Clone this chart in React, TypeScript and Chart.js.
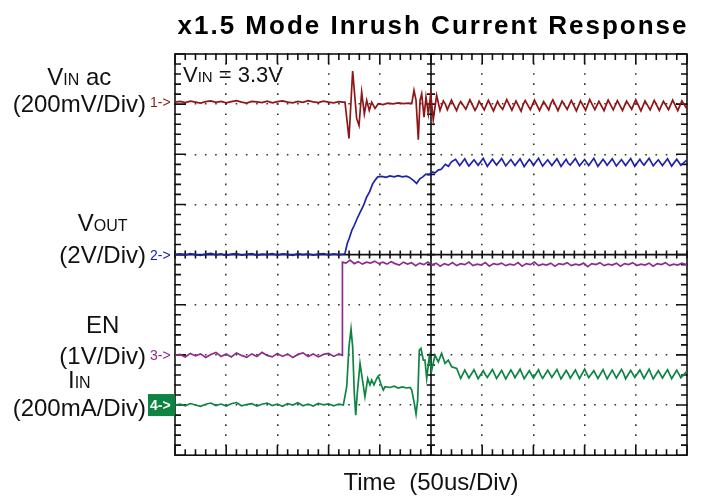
import React, { useEffect, useRef } from 'react';
import { Chart, registerables } from 'chart.js';

Chart.register(...registerables);

// ---------- text ----------
const TITLE = 'x1.5 Mode Inrush Current Response';
const X_AXIS_TITLE = 'Time  (50us/Div)';
const NOTE_PARTS = ['V', 'IN', ' = 3.3V'];

// ---------- scope setup ----------
const TIME_PER_DIV = 50; // us
const H_DIVS = 10;
const V_DIVS = 8;
const MINOR_PER_DIV = 5;

const CH_LABEL_LINE1 = [['V', 'IN', ' ac'], ['V', 'OUT', ''], ['EN', '', ''], ['I', 'IN', '']];
const CH_LABEL_LINE2 = ['(200mV/Div)', '(2V/Div)', '(1V/Div)', '(200mA/Div)'];
const CH_UNITS_PER_DIV = [200, 2, 1, 200]; // mV, V, V, mA
const CH_POSITIONS = [7.04, 4.0, 1.99, 1.0]; // marker level, divisions from bottom

// ---------- traces: [time us, value in channel units] ----------
const VIN_AC_MV: [number, number][] = [
  [0, 0], [5, 3], [10, -2], [15, 4], [20, 0], [25, -4], [30, 2], [35, 5], [40, -1], [45, 3], [50, -3], [55, 2],
  [60, 6], [65, 0], [70, -4], [75, 3], [80, 1], [85, -2], [90, 4], [95, -3], [100, 2], [105, 5], [110, 0],
  [115, -3], [120, 3], [125, -1], [130, 6], [135, 1], [140, -2], [145, 4], [150, 0], [155, -3], [160, 2], [164, 0],
  [166, 0], [169.9, -145], [173.5, 124], [177.4, -65], [179.7, -93], [182.3, 40], [184.9, -47], [187.2, 7],
  [189.7, -33], [192.1, 0], [195.3, -25], [198.5, -6], [203.1, -10], [208, -4], [213, -7], [218, -3], [223, -6],
  [228, -4], [231.2, -6], [233.4, 47], [235.4, 7], [237.6, -150], [239.3, 7], [240.9, 33], [243.2, -60],
  [245.1, 20], [247.4, -47], [249.7, 33], [252.2, -70], [255.5, 27], [258.8, -33],
  [262, 5], [264, -8], [266, -30], [270, 8], [275, -34], [277, -12], [279, 2], [284, -28], [288, 9], [293, -33],
  [295, -18], [297, 4], [302, -31], [306, 7], [311, -35], [315, 3], [317, -14], [320, -29], [324, 10], [329, -32],
  [333, 5], [338, -36], [340, -10], [342, 6], [347, -30], [351, 8], [356, -33], [360, 2], [365, -31], [367, -6],
  [369, 9], [374, -34], [378, 4], [383, -29], [387, 7], [392, -35], [394, -15], [396, 5], [401, -32], [405, 10],
  [410, -30], [414, 3], [419, -34], [421, -12], [423, 8], [428, -31], [432, 6], [437, -33], [441, 4], [446, -29],
  [448, -9], [450, 9], [455, -35], [459, 5], [464, -31], [468, 7], [473, -33], [475, -14], [477, 3], [482, -30],
  [486, 8], [491, -34], [495, 5], [500, -28],
];

const VOUT_V: [number, number][] = [
  [0, 0], [5, 0.03], [10, -0.02], [15, 0.04], [20, 0], [25, -0.03], [30, 0.02], [35, 0.05], [40, -0.01],
  [45, 0.03], [50, -0.04], [55, 0.02], [60, 0.04], [65, -0.02], [70, 0.01], [75, 0.04], [80, -0.03], [85, 0.02],
  [90, 0], [95, 0.04], [100, -0.02], [105, 0.03], [110, 0.01], [115, -0.03], [120, 0.04], [125, 0], [130, 0.03],
  [135, -0.02], [140, 0.02], [145, 0.04], [150, -0.01], [155, 0.03], [160, 0], [165, 0.02],
  [166, 0.05], [168.3, 0.45], [170, 0.63], [173, 1.0], [175, 1.16], [178, 1.45], [181, 1.7], [184, 1.95],
  [187, 2.28], [190, 2.5], [193, 2.82], [196, 3.0], [198, 3.1], [202, 3.12], [206, 3.08], [210, 3.14], [214, 3.1],
  [218, 3.15], [222, 3.1], [226, 3.13], [229, 3.08], [233, 2.95], [236, 2.84], [239, 3.02], [242, 3.1],
  [245, 3.21], [248, 3.18], [251, 3.3], [254, 3.26], [257, 3.37], [260, 3.4], [264, 3.6], [267, 3.52], [270, 3.7],
  [274, 3.8], [278, 3.55], [283, 3.82], [285, 3.66], [287, 3.53], [292, 3.78], [296, 3.56], [301, 3.84],
  [305, 3.52], [310, 3.8], [312, 3.68], [314, 3.57], [319, 3.83], [323, 3.54], [328, 3.79], [332, 3.55],
  [337, 3.82], [341, 3.51], [346, 3.8], [348, 3.7], [350, 3.56], [355, 3.84], [359, 3.53], [364, 3.78],
  [368, 3.55], [373, 3.82], [377, 3.52], [382, 3.8], [384, 3.64], [386, 3.57], [391, 3.83], [395, 3.54],
  [400, 3.79], [404, 3.55], [409, 3.84], [413, 3.52], [418, 3.8], [420, 3.69], [422, 3.56], [427, 3.82],
  [431, 3.53], [436, 3.79], [440, 3.55], [445, 3.83], [449, 3.52], [454, 3.8], [456, 3.66], [458, 3.57],
  [463, 3.84], [467, 3.54], [472, 3.78], [476, 3.55], [481, 3.82], [485, 3.53], [490, 3.8], [492, 3.68],
  [494, 3.56], [500, 3.78],
];

const EN_V: [number, number][] = [
  [0, 0], [5, 0.02], [10, -0.03], [15, 0.04], [20, -0.01], [25, 0.03], [30, -0.04], [35, 0.02], [40, 0.06],
  [45, -0.02], [50, 0.03], [55, -0.03], [60, 0.05], [65, 0], [70, -0.04], [75, 0.03], [80, -0.02], [85, 0.06],
  [90, 0], [95, -0.03], [100, 0.04], [105, -0.02], [110, 0.03], [115, -0.04], [120, 0.02], [125, 0.05],
  [130, -0.02], [135, 0.03], [140, -0.03], [145, 0.02], [150, 0.04], [155, -0.02], [160, 0.03], [163.4, 0],
  [163.5, 1.86], [167, 1.84], [171, 1.9], [175, 1.83], [179, 1.87], [183, 1.82], [187, 1.86], [191, 1.84],
  [195, 1.88], [199, 1.83], [203, 1.86], [207, 1.82], [211, 1.87], [215, 1.83], [219, 1.8], [223, 1.86],
  [227, 1.82], [231, 1.85], [235, 1.79], [239, 1.84], [243, 1.81], [247, 1.86], [251, 1.8],
  [255, 1.84], [259, 1.78], [263, 1.83], [267, 1.8], [271, 1.85], [275, 1.79], [279, 1.83], [283, 1.81],
  [287, 1.86], [291, 1.79], [295, 1.82], [299, 1.8], [303, 1.85], [307, 1.78], [311, 1.83], [315, 1.81],
  [319, 1.84], [323, 1.79], [327, 1.82], [331, 1.8], [335, 1.85], [339, 1.78], [343, 1.83], [347, 1.81],
  [351, 1.86], [355, 1.79], [359, 1.82], [363, 1.8], [367, 1.84], [371, 1.78], [375, 1.83], [379, 1.81],
  [383, 1.85], [387, 1.79], [391, 1.82], [395, 1.8], [399, 1.84], [403, 1.77], [407, 1.83], [411, 1.81],
  [415, 1.85], [419, 1.79], [423, 1.82], [427, 1.8], [431, 1.84], [435, 1.78], [439, 1.83], [443, 1.81],
  [447, 1.85], [451, 1.79], [455, 1.82], [459, 1.8], [463, 1.84], [467, 1.78], [471, 1.83], [475, 1.81],
  [479, 1.85], [483, 1.79], [487, 1.82], [491, 1.8], [495, 1.84], [500, 1.8],
];

const IIN_MA: [number, number][] = [
  [0, 0], [5, 4], [10, -3], [15, 6], [20, 0], [25, -5], [30, 3], [35, 8], [40, -2], [45, 4], [50, -4], [55, 5],
  [60, 10], [65, -3], [70, 2], [75, 6], [80, -4], [85, 3], [90, 8], [95, -2], [100, 4], [105, -5], [110, 6],
  [115, 0], [120, 9], [125, -3], [130, 4], [135, -4], [140, 7], [145, 1], [150, 5], [155, -3], [160, 4],
  [164.4, 0], [167.7, 73], [169.9, 232], [171.9, 303], [173.5, 232], [175.1, 47], [176.5, -40], [178, 47],
  [180.7, 166], [182.6, 113], [185.5, 33], [188.2, 106], [190.4, 80], [192.1, 100], [194.3, 80], [197, 106],
  [198.5, 115], [200.9, 86], [203.4, 60], [205.1, 73], [210, 70], [214, 75], [218, 68], [222, 72], [226, 68],
  [229.5, 70], [231.2, 60], [233.7, 7], [235.4, -36], [237, 20], [238.6, 219], [240.2, 226], [242.5, 179],
  [244.1, 179], [245.8, 106], [248.3, 192], [250.7, 139], [253.9, 199], [257.1, 172], [260.4, 206],
  [263.7, 166], [266.9, 179], [270.2, 153], [275.1, 146], [279, 106],
  [283, 139], [285, 124], [287, 108], [292, 141], [296, 105], [301, 137], [303, 122], [305, 110], [310, 142],
  [314, 106], [319, 138], [323, 104], [328, 140], [330, 126], [332, 109], [337, 143], [341, 105], [346, 137],
  [350, 108], [355, 141], [357, 120], [359, 106], [364, 139], [368, 110], [373, 142], [377, 104], [382, 138],
  [384, 125], [386, 107], [391, 140], [395, 105], [400, 143], [404, 109], [409, 137], [411, 121], [413, 106],
  [418, 141], [422, 104], [427, 139], [431, 108], [436, 142], [438, 127], [440, 105], [445, 138], [449, 110],
  [454, 140], [458, 106], [463, 143], [465, 123], [467, 104], [472, 137], [476, 108], [481, 141], [485, 105],
  [490, 139], [492, 124], [494, 109], [500, 136],
];

const TRACES = [VIN_AC_MV, VOUT_V, EN_V, IIN_MA];
const CH_COLORS = ['#8e1616', '#1b23ab', '#8f2b8f', '#0e8443'];
const FONT = "'Liberation Sans', Arial, Helvetica, sans-serif";
const LINE1_GAP = [27, 32, 31, 28];
const LINE2_SHIFT = [9.5, 8.5, 8.5, 11];

type Part = { t: string; s: number; b?: boolean };

function partsWidth(ctx: CanvasRenderingContext2D, parts: Part[]) {
  let w = 0;
  for (const p of parts) {
    ctx.font = `${p.b ? 'bold ' : ''}${p.s}px ${FONT}`;
    w += ctx.measureText(p.t).width;
  }
  return w;
}

function drawParts(ctx: CanvasRenderingContext2D, parts: Part[], x: number, y: number) {
  let cx = x;
  ctx.textAlign = 'left';
  ctx.textBaseline = 'alphabetic';
  for (const p of parts) {
    if (!p.t) continue;
    ctx.font = `${p.b ? 'bold ' : ''}${p.s}px ${FONT}`;
    ctx.fillText(p.t, cx, y);
    cx += ctx.measureText(p.t).width;
  }
}

const scopePlugin = {
  id: 'scopeGraticule',
  beforeDatasetsDraw(chart: any) {
    const { ctx, chartArea: a, scales } = chart;
    const xs = scales.x;
    const ys = scales.y;
    ctx.save();
    ctx.strokeStyle = '#111';
    ctx.lineWidth = 1.6;
    ctx.strokeRect(a.left, a.top, a.right - a.left, a.bottom - a.top);
    const cx = xs.getPixelForValue((H_DIVS / 2) * TIME_PER_DIV);
    const cy = ys.getPixelForValue(V_DIVS / 2);
    ctx.beginPath();
    ctx.moveTo(a.left, cy);
    ctx.lineTo(a.right, cy);
    ctx.moveTo(cx, a.top);
    ctx.lineTo(cx, a.bottom);
    ctx.stroke();
    ctx.beginPath();
    const stepT = TIME_PER_DIV / MINOR_PER_DIV;
    for (let i = 0; i <= H_DIVS * MINOR_PER_DIV; i++) {
      const px = xs.getPixelForValue(i * stepT);
      const major = i % MINOR_PER_DIV === 0;
      const len = major ? 10 : 6;
      ctx.moveTo(px, a.top);
      ctx.lineTo(px, a.top + len);
      ctx.moveTo(px, a.bottom);
      ctx.lineTo(px, a.bottom - len);
      ctx.moveTo(px, cy - 4);
      ctx.lineTo(px, cy + 4);
    }
    const stepV = 1 / MINOR_PER_DIV;
    for (let i = 0; i <= V_DIVS * MINOR_PER_DIV; i++) {
      const py = ys.getPixelForValue(i * stepV);
      const major = i % MINOR_PER_DIV === 0;
      const len = major ? 11 : 6;
      ctx.moveTo(a.left, py);
      ctx.lineTo(a.left + len, py);
      ctx.moveTo(a.right, py);
      ctx.lineTo(a.right - len, py);
      ctx.moveTo(cx - 4, py);
      ctx.lineTo(cx + 4, py);
    }
    ctx.stroke();
    ctx.restore();
  },
  afterDraw(chart: any) {
    const { ctx, chartArea: a, scales } = chart;
    const ys = scales.y;
    ctx.save();
    // title
    ctx.fillStyle = '#000';
    ctx.font = `bold 26px ${FONT}`;
    (ctx as any).letterSpacing = '2px';
    ctx.textAlign = 'center';
    ctx.textBaseline = 'alphabetic';
    ctx.fillText(TITLE, (a.left + a.right) / 2 + 2, 34);
    (ctx as any).letterSpacing = '0px';

    // note inside plot
    ctx.fillStyle = '#111';
    drawParts(ctx, [{ t: NOTE_PARTS[0], s: 22 }, { t: NOTE_PARTS[1], s: 15 }, { t: NOTE_PARTS[2], s: 22 }], a.left + 8, a.top + 28);

    // channel labels & markers
    for (let c = 0; c < 4; c++) {
      const py = ys.getPixelForValue(CH_POSITIONS[c]);
      ctx.fillStyle = '#111';
      ctx.font = `24px ${FONT}`;
      const l2w = ctx.measureText(CH_LABEL_LINE2[c]).width;
      const rightX = a.left - 29;
      const centerX = rightX - l2w / 2;
      const base2 = py + LINE2_SHIFT[c];
      ctx.textAlign = 'right';
      ctx.textBaseline = 'alphabetic';
      ctx.fillText(CH_LABEL_LINE2[c], rightX, base2);
      const l1: Part[] = [
        { t: CH_LABEL_LINE1[c][0], s: 24 },
        { t: CH_LABEL_LINE1[c][1], s: 16 },
        { t: CH_LABEL_LINE1[c][2], s: 24 },
      ];
      const l1w = partsWidth(ctx, l1);
      drawParts(ctx, l1, centerX - l1w / 2, base2 - LINE1_GAP[c]);

      const mk = `${c + 1}->`;
      if (c === 3) {
        ctx.fillStyle = CH_COLORS[c];
        ctx.fillRect(a.left - 27, py - 11, 27, 22);
        ctx.fillStyle = '#fff';
        ctx.font = `bold 14px ${FONT}`;
      } else {
        ctx.fillStyle = CH_COLORS[c];
        ctx.font = `14px ${FONT}`;
      }
      ctx.textAlign = 'left';
      ctx.fillText(mk, a.left - 25, py + 5);
    }
    ctx.restore();
  },
};

export default function App() {
  const canvasRef = useRef<HTMLCanvasElement | null>(null);

  useEffect(() => {
    if (!canvasRef.current) return;
    const datasets = TRACES.map((trace, c) => ({
      label: `CH${c + 1}`,
      data: trace.map(([t, v]) => ({ x: t, y: CH_POSITIONS[c] + v / CH_UNITS_PER_DIV[c] })),
      borderColor: CH_COLORS[c],
      backgroundColor: CH_COLORS[c],
      borderWidth: 1.7,
      pointRadius: 0,
      tension: 0,
      fill: false,
    }));
    const chart = new Chart(canvasRef.current, {
      type: 'line',
      data: { datasets },
      options: {
        animation: false,
        responsive: false,
        devicePixelRatio: 1,
        events: [],
        parsing: false,
        layout: { padding: { left: 175, right: 16, top: 54, bottom: 0 } },
        plugins: {
          legend: { display: false },
          tooltip: { enabled: false },
          title: { display: false },
        },
        scales: {
          x: {
            type: 'linear',
            min: 0,
            max: H_DIVS * TIME_PER_DIV,
            ticks: { display: false, stepSize: TIME_PER_DIV },
            grid: { color: '#333', lineWidth: 1.6, drawTicks: false },
            border: { display: false, dash: [1.6, 8.43], dashOffset: 0.8 },
            title: {
              display: true,
              text: X_AXIS_TITLE,
              color: '#111',
              font: { family: FONT, size: 24 },
              padding: { top: 14, bottom: 2 },
            },
          },
          y: {
            type: 'linear',
            min: 0,
            max: V_DIVS,
            ticks: { display: false, stepSize: 1 },
            grid: { color: '#333', lineWidth: 1.6, drawTicks: false },
            border: { display: false, dash: [1.6, 8.64], dashOffset: 0.8 },
          },
        },
      },
      plugins: [scopePlugin],
    } as any);
    return () => chart.destroy();
  }, []);

  return (
    <div style={{ position: 'absolute', left: 0, top: 0, width: 703, height: 500, background: '#fff' }}>
      <canvas ref={canvasRef} width={703} height={500} style={{ display: 'block', width: 703, height: 500 }} />
    </div>
  );
}
